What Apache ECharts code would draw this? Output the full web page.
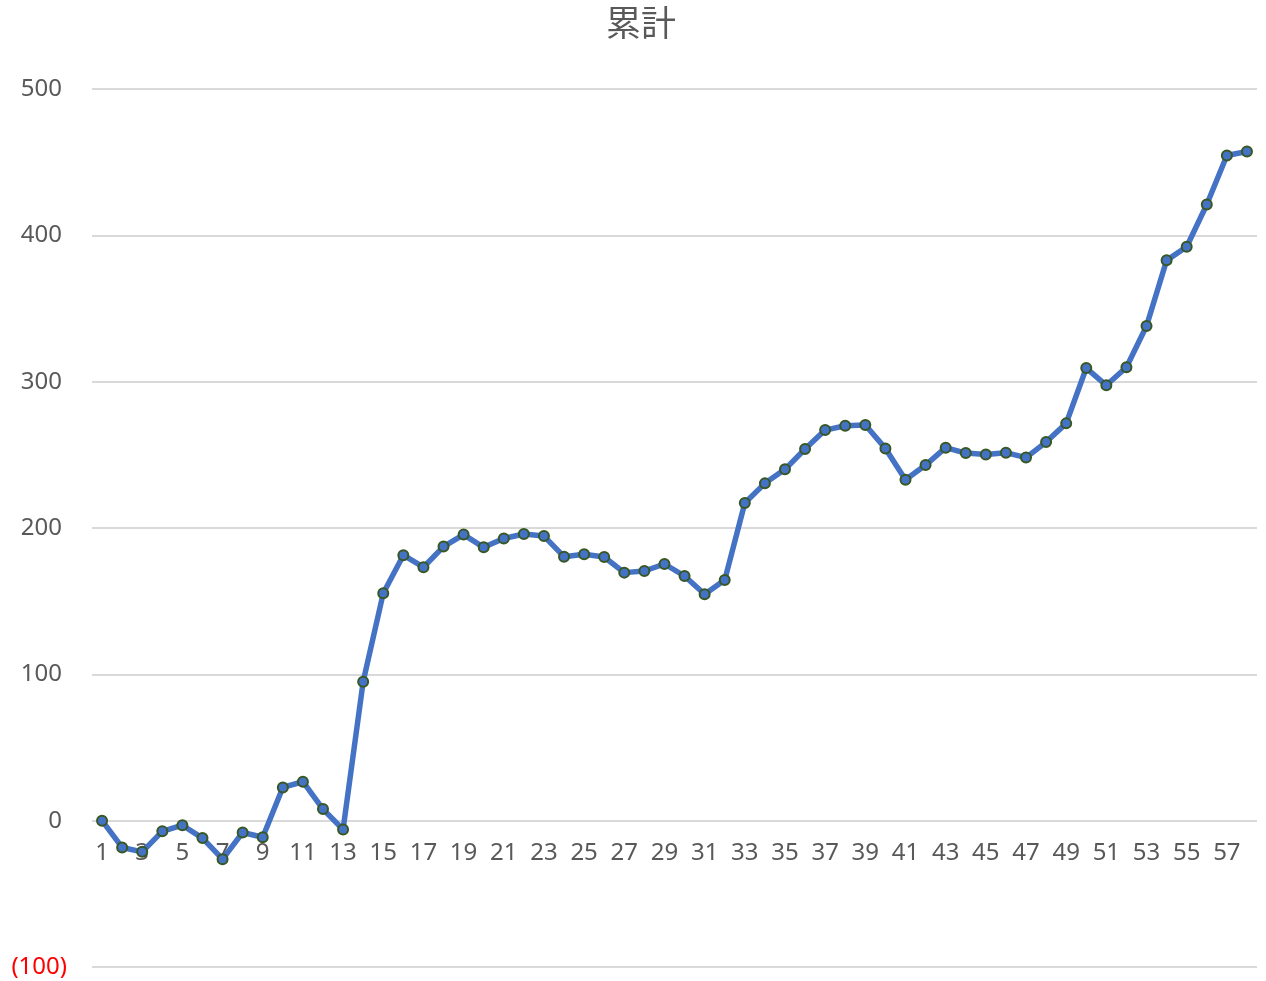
<!DOCTYPE html>
<html>
<head>
<meta charset="utf-8">
<script src="https://cdn.jsdelivr.net/npm/echarts@6/dist/echarts.min.js"></script>
<style>
  html, body { margin: 0; padding: 0; background: #fff; }
  #chart { width: 1266px; height: 981px; }
</style>
</head>
<body>
<div id="chart"></div>
<script>
// Running total per period (累計)
const categories = Array.from({ length: 58 }, (_, i) => String(i + 1));
const cumulative = [
  0, -18.3, -21.3, -7.3, -3.1, -11.9, -26.3, -8.1, -11.3, 22.7,
  26.6, 7.9, -6.0, 95.0, 155.4, 181.4, 173.2, 187.3, 195.5, 186.8,
  192.8, 195.9, 194.5, 180.4, 182.0, 180.2, 169.5, 170.6, 175.4, 167.2,
  154.7, 164.4, 217.1, 230.5, 240.1, 254.0, 266.9, 269.9, 270.4, 254.4,
  233.0, 243.0, 254.9, 251.2, 250.3, 251.5, 248.1, 258.7, 271.5, 309.3,
  297.5, 309.8, 338.0, 382.9, 392.2, 421.1, 454.6, 457.3
];
const yMin = -100, yMax = 500, yStep = 100;

const textColor = '#595959';
const numFont = '"Noto Sans", sans-serif';
const numSize = 24;

const W = 1266, H = 981;
const gridBox = { left: 92, right: 9, top: 89, bottom: 14 };
// The category axis sits on the zero line of the value axis
const plotH = H - gridBox.top - gridBox.bottom;
const zeroOffset = -plotH * (0 - yMin) / (yMax - yMin);

const chart = echarts.init(document.getElementById('chart'));
chart.setOption({
  animation: false,
  backgroundColor: '#fff',
  title: {
    text: '累計',
    left: 601,
    top: 0,
    textStyle: {
      fontFamily: '"Noto Sans CJK JP", sans-serif',
      fontSize: 35,
      fontWeight: 'normal',
      color: textColor
    }
  },
  grid: Object.assign({ containLabel: false, outerBoundsMode: 'none' }, gridBox),
  xAxis: {
    type: 'category',
    data: categories,
    boundaryGap: true,
    offset: zeroOffset,
    axisLine: { show: false, onZero: false },
    axisTick: { show: false },
    axisLabel: {
      interval: 1,
      margin: 20,
      fontSize: numSize,
      fontFamily: numFont,
      color: textColor
    },
    splitLine: { show: false }
  },
  yAxis: {
    type: 'value',
    min: yMin,
    max: yMax,
    interval: yStep,
    axisLine: { show: false },
    axisTick: { show: false },
    axisLabel: {
      margin: 25,
      fontSize: numSize,
      fontFamily: numFont,
      formatter: v => v < 0 ? '{n|(' + Math.abs(v) + ')}' : '{p|' + v + '}',
      rich: {
        p: { color: textColor, fontSize: numSize, fontFamily: numFont, padding: [0, 5, 0, 0] },
        n: { color: '#FF0000', fontSize: numSize, fontFamily: numFont }
      }
    },
    splitLine: { show: true, lineStyle: { color: '#D9D9D9', width: 2 } }
  },
  series: [{
    type: 'line',
    data: cumulative,
    symbol: 'circle',
    symbolSize: 10,
    showAllSymbol: true,
    lineStyle: { color: '#4472C4', width: 5.5 },
    itemStyle: { color: '#4472C4', borderColor: '#385723', borderWidth: 2 },
    z: 3
  }]
});
</script>
</body>
</html>
